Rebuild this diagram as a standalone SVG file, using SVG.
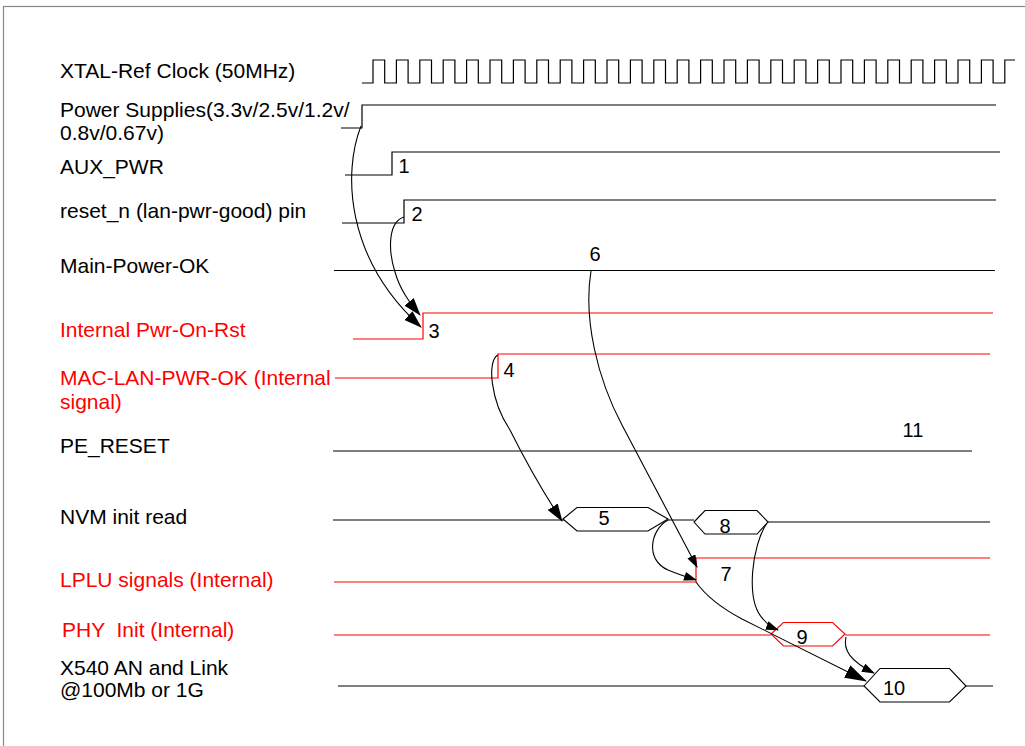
<svg xmlns="http://www.w3.org/2000/svg" width="1025" height="746" viewBox="0 0 1025 746">
<style>
.lbl{font-family:"Liberation Sans",Arial,sans-serif;font-size:21px;fill:#000}
.red{fill:#ff0000}
.num{font-family:"Liberation Sans",Arial,sans-serif;font-size:20px;fill:#000}
.sig{fill:none;stroke:#000;stroke-width:1.2}
.rsig{fill:none;stroke:#ff0000;stroke-width:1.2}
.hex{fill:#fff;stroke:#000;stroke-width:1.1}
.rhex{fill:#fff;stroke:#ff0000;stroke-width:1.1}
.con{fill:none;stroke:#000;stroke-width:1.1}
</style>
<defs>
<marker id="ah" viewBox="0 0 18 12" refX="17" refY="6" markerWidth="18" markerHeight="12" markerUnits="userSpaceOnUse" orient="auto"><path d="M0,0 L18,6 L0,12 Z" fill="#000"/></marker>
<marker id="as" viewBox="0 0 13 9" refX="12" refY="4.5" markerWidth="13" markerHeight="9" markerUnits="userSpaceOnUse" orient="auto"><path d="M0,0 L13,4.5 L0,9 Z" fill="#000"/></marker>
<marker id="al" viewBox="0 0 22 14" refX="21" refY="7" markerWidth="22" markerHeight="14" markerUnits="userSpaceOnUse" orient="auto"><path d="M0,0 L22,7 L0,14 Z" fill="#000"/></marker>
</defs>
<rect x="3.5" y="6.5" width="1030" height="760" fill="#fff" stroke="#888" stroke-width="1.2"/>

<g id="labels">
<text class="lbl" x="60" y="78">XTAL-Ref Clock (50MHz)</text>
<text class="lbl" x="60" y="117">Power Supplies(3.3v/2.5v/1.2v/</text>
<text class="lbl" x="60" y="140">0.8v/0.67v)</text>
<text class="lbl" x="60" y="174">AUX_PWR</text>
<text class="lbl" x="60" y="218">reset_n (lan-pwr-good) pin</text>
<text class="lbl" x="60" y="273">Main-Power-OK</text>
<text class="lbl red" x="60" y="337">Internal Pwr-On-Rst</text>
<text class="lbl red" x="60" y="385">MAC-LAN-PWR-OK (Internal</text>
<text class="lbl red" x="60" y="409">signal)</text>
<text class="lbl" x="60" y="453">PE_RESET</text>
<text class="lbl" x="60" y="524">NVM init read</text>
<text class="lbl red" x="60" y="587">LPLU signals (Internal)</text>
<text class="lbl red" x="62" y="637" style="white-space:pre">PHY  Init (Internal)</text>
<text class="lbl" x="60" y="675">X540 AN and Link</text>
<text class="lbl" x="60" y="697">@100Mb or 1G</text>
</g>

<g id="signals">
<path class="sig" stroke="#444" d="M362,83 H373 V60 H384.7 V83 H396.4 V60 H408.1 V83 H419.8 V60 H431.5 V83 H443.2 V60 H454.9 V83 H466.6 V60 H478.3 V83 H490 V60 H501.7 V83 H513.4 V60 H525.1 V83 H536.8 V60 H548.5 V83 H560.2 V60 H571.9 V83 H583.6 V60 H595.3 V83 H607 V60 H618.7 V83 H630.4 V60 H642.1 V83 H653.8 V60 H665.5 V83 H677.2 V60 H688.9 V83 H700.6 V60 H712.3 V83 H724 V60 H735.7 V83 H747.4 V60 H759.1 V83 H770.8 V60 H782.5 V83 H794.2 V60 H805.9 V83 H817.6 V60 H829.3 V83 H841 V60 H852.7 V83 H864.4 V60 H876.1 V83 H887.8 V60 H899.5 V83 H911.2 V60 H922.9 V83 H934.6 V60 H946.3 V83 H958 V60 H969.7 V83 H981.4 V60 H993.1 V83 H1004.8 V60 H1015"/>
<path class="sig" d="M341,128 H362 V105 H996"/>
<path class="sig" d="M345,175 H392 V152 H1000"/>
<path class="sig" d="M342,223 H404 V200 H996"/>
<path class="sig" d="M334,270.5 H995"/>
<path class="rsig" d="M353,339 H423 V313 H993"/>
<path class="rsig" d="M335,378 H498 V354 H990"/>
<path class="sig" d="M333,451 H972"/>
<path class="sig" d="M333,520 H575 M668,520 H694 M768,522 H990"/>
<path class="rsig" d="M334,582 H696 V558 H990"/>
<path class="rsig" d="M334,635 H771 M845,635 H990"/>
<path class="sig" d="M338,686 H864 M966,686 H993"/>
</g>

<g id="node5"><path class="hex" d="M563,519 L577,507.5 L648,507.5 L668,519 L648,531 L577,531 Z"/><text class="num" x="604" y="525" text-anchor="middle">5</text></g>
<g id="node8"><path class="hex" d="M694,522 L705,510.5 L757,510.5 L768,522 L757,534 L705,534 Z"/><text class="num" x="725" y="533" text-anchor="middle">8</text></g>
<g id="node9"><path class="rhex" d="M771,634 L783.5,622.5 L832.5,622.5 L845,634 L832.5,646 L783.5,646 Z"/><text class="num" x="802" y="644" text-anchor="middle">9</text></g>
<g id="node10"><path class="hex" d="M864,686 L880,668.5 L949.5,668.5 L966,686 L949.5,702 L880,702 Z"/><text class="num" x="894" y="695" text-anchor="middle">10</text></g>

<g id="numbers">
<text class="num" x="404" y="173" text-anchor="middle">1</text>
<text class="num" x="417" y="221" text-anchor="middle">2</text>
<text class="num" x="434" y="338" text-anchor="middle">3</text>
<text class="num" x="509" y="377" text-anchor="middle">4</text>
<text class="num" x="595" y="261" text-anchor="middle">6</text>
<text class="num" x="726" y="581" text-anchor="middle">7</text>
<text class="num" x="913" y="437" text-anchor="middle">11</text>
</g>

<g id="connectors">
<path class="con" d="M361,126 C343,172 345,258 421,327" marker-end="url(#ah)"/>
<path class="con" d="M404,217 C388,222 388,250 395,272 C400,290 410,303 420,315" marker-end="url(#ah)"/>
<path class="con" d="M498,355 C487,360 490,400 510,430 C525,460 545,495 562,521" marker-end="url(#ah)"/>
<path class="con" d="M591,271 C583,320 598,380 622,425 L697,567" marker-end="url(#as)"/>
<path class="con" d="M668,520 C650,530 645,560 668,570 C680,575 690,578 696,580" marker-end="url(#as)"/>
<path class="con" d="M696,582 Q710,602 742,619 L866,681" marker-end="url(#al)"/>
<path class="con" d="M767,523 C752,545 745,600 763,619 C768,625 773,628 778,630" marker-end="url(#as)"/>
<path class="con" d="M846,637 C843,650 850,661 874,673" marker-end="url(#as)"/>
</g>
</svg>
